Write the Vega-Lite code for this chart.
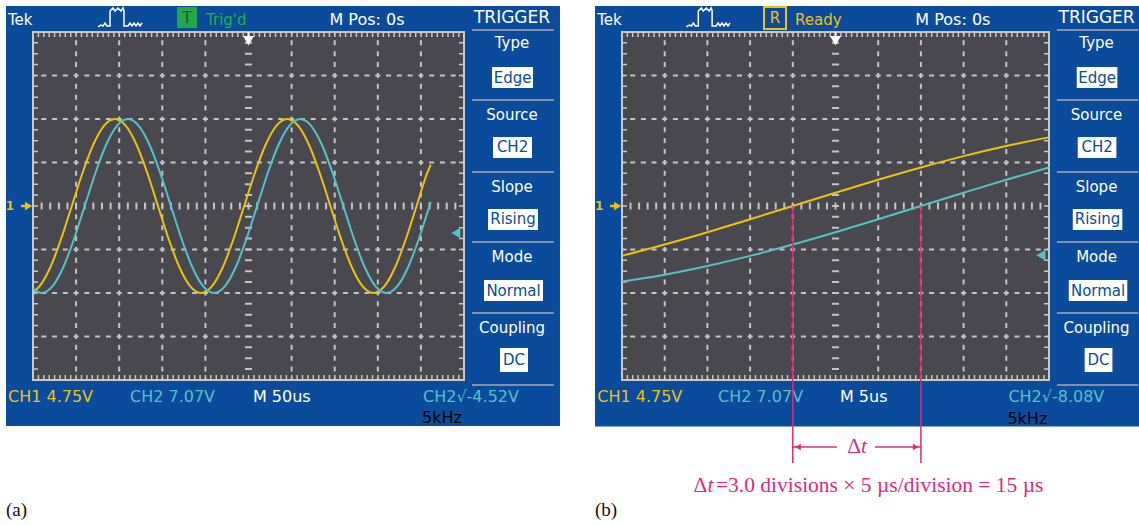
{
"$schema": "https://vega.github.io/schema/vega-lite/v6.json",
"padding": 0,
"background": "#ffffff",
"spacing": 0,
"bounds": "flush",
"config": {"view": {"stroke": null}},
"resolve": {"scale": {"x": "independent", "y": "independent", "color": "independent"}},
"datasets": {
"bgA": [{"x": -0.626, "x2": 12.227, "y": 4.598, "y2": -5.057}],
"bgB": [{"x": -0.632, "x2": 12.108, "y": 4.598, "y2": -5.07}],
"screen": [{"x": 0, "x2": 10, "y": 4, "y2": -4}],
"vgrid": [{"x": 1, "x2": 1, "y": 4, "y2": -4}, {"x": 2, "x2": 2, "y": 4, "y2": -4}, {"x": 3, "x2": 3, "y": 4, "y2": -4}, {"x": 4, "x2": 4, "y": 4, "y2": -4}, {"x": 6, "x2": 6, "y": 4, "y2": -4}, {"x": 7, "x2": 7, "y": 4, "y2": -4}, {"x": 8, "x2": 8, "y": 4, "y2": -4}, {"x": 9, "x2": 9, "y": 4, "y2": -4}],
"hgrid": [{"x": 0, "x2": 10, "y": 3, "y2": 3}, {"x": 0, "x2": 10, "y": 2, "y2": 2}, {"x": 0, "x2": 10, "y": 1, "y2": 1}, {"x": 0, "x2": 10, "y": -1, "y2": -1}, {"x": 0, "x2": 10, "y": -2, "y2": -2}, {"x": 0, "x2": 10, "y": -3, "y2": -3}],
"vcenter": [{"x": 5, "x2": 5, "y": 4, "y2": -4}],
"hcenter": [{"x": 0, "x2": 10, "y": 0, "y2": 0}],
"edgeTB": [{"x": 0, "x2": 10, "y": 3.9425, "y2": 3.9425}, {"x": 0, "x2": 10, "y": -3.9425, "y2": -3.9425}],
"edgeLR": [{"x": 0.058, "x2": 0.058, "y": 4, "y2": -4}, {"x": 9.942, "x2": 9.942, "y": 4, "y2": -4}],
"sep": [{"x": 10.186, "x2": 12.088, "y": 4.046, "y2": 4.046}, {"x": 10.186, "x2": 12.088, "y": 2.437, "y2": 2.437}, {"x": 10.186, "x2": 12.088, "y": 0.782, "y2": 0.782}, {"x": 10.186, "x2": 12.088, "y": -0.828, "y2": -0.828}, {"x": 10.186, "x2": 12.088, "y": -2.46, "y2": -2.46}, {"x": 10.186, "x2": 12.088, "y": -4.115, "y2": -4.115}],
"menu": [{"x": 11.114, "y": 3.747, "label": "Type"}, {"x": 11.114, "y": 2.092, "label": "Source"}, {"x": 11.114, "y": 0.437, "label": "Slope"}, {"x": 11.114, "y": -1.172, "label": "Mode"}, {"x": 11.114, "y": -2.805, "label": "Coupling"}],
"boxes": [{"x": 10.65, "x2": 11.601, "y": 3.195, "y2": 2.713}, {"x": 10.673, "x2": 11.578, "y": 1.586, "y2": 1.103}, {"x": 10.557, "x2": 11.717, "y": -0.069, "y2": -0.552}, {"x": 10.464, "x2": 11.833, "y": -1.701, "y2": -2.184}, {"x": 10.835, "x2": 11.485, "y": -3.264, "y2": -3.816}],
"values": [{"x": 11.126, "y": 2.954, "label": "Edge"}, {"x": 11.126, "y": 1.345, "label": "CH2"}, {"x": 11.137, "y": -0.31, "label": "Rising"}, {"x": 11.149, "y": -1.943, "label": "Normal"}, {"x": 11.16, "y": -3.54, "label": "DC"}],
"headL": [{"x": -0.58, "y": 4.276, "label": "Tek"}],
"headC": [{"x": 7.749, "y": 4.276, "label": "M Pos: 0s"}],
"trig": [{"x": 11.114, "y": 4.322, "label": "TRIGGER"}],
"icon": [{"i": 0, "x": 1.508, "y": 4.115}, {"i": 1, "x": 1.578, "y": 4.161}, {"i": 2, "x": 1.624, "y": 4.138}, {"i": 3, "x": 1.671, "y": 4.207}, {"i": 4, "x": 1.717, "y": 4.138}, {"i": 5, "x": 1.787, "y": 4.138}, {"i": 6, "x": 1.787, "y": 4.483}, {"i": 7, "x": 1.856, "y": 4.552}, {"i": 8, "x": 1.903, "y": 4.483}, {"i": 9, "x": 1.972, "y": 4.552}, {"i": 10, "x": 2.042, "y": 4.483}, {"i": 11, "x": 2.088, "y": 4.552}, {"i": 12, "x": 2.111, "y": 4.483}, {"i": 13, "x": 2.111, "y": 4.138}, {"i": 14, "x": 2.204, "y": 4.138}, {"i": 15, "x": 2.251, "y": 4.207}, {"i": 16, "x": 2.297, "y": 4.138}, {"i": 17, "x": 2.343, "y": 4.207}, {"i": 18, "x": 2.39, "y": 4.138}, {"i": 19, "x": 2.436, "y": 4.207}, {"i": 20, "x": 2.483, "y": 4.138}, {"i": 21, "x": 2.529, "y": 4.207}],
"statA": [{"x": -0.58, "y": -4.391, "label": "CH1 4.75V", "ch": "CH1"}, {"x": 2.251, "y": -4.391, "label": "CH2 7.07V", "ch": "CH2"}, {"x": 5.104, "y": -4.391, "label": "M 50us", "ch": "M"}, {"x": 9.049, "y": -4.391, "label": "CH2√-4.52V", "ch": "CH2"}, {"x": 9.026, "y": -4.88, "label": "5kHz", "ch": "F"}],
"statB": [{"x": -0.58, "y": -4.391, "label": "CH1 4.75V", "ch": "CH1"}, {"x": 2.251, "y": -4.391, "label": "CH2 7.07V", "ch": "CH2"}, {"x": 5.104, "y": -4.391, "label": "M 5us", "ch": "M"}, {"x": 9.049, "y": -4.391, "label": "CH2√-8.08V", "ch": "CH2"}, {"x": 9.026, "y": -4.9, "label": "5kHz", "ch": "F"}],
"modeBoxA": [{"x": 3.341, "x2": 3.805, "y": 4.575, "y2": 4.092}],
"modeLetterA": [{"x": 3.573, "y": 4.333, "label": "T"}],
"modeWordA": [{"x": 4.014, "y": 4.276, "label": "Trig'd"}],
"modeBoxB": [{"x": 3.326, "x2": 3.841, "y": 4.575, "y2": 4.069}],
"modeLetterB": [{"x": 3.583, "y": 4.333, "label": "R"}],
"modeWordB": [{"x": 4.052, "y": 4.276, "label": "Ready"}],
"waveA": [
{"ch": "CH1", "x": 0, "y": -1.975}, {"ch": "CH1", "x": 0.15, "y": -1.848}, {"ch": "CH1", "x": 0.4, "y": -1.414}, {"ch": "CH1", "x": 0.65, "y": -0.765}, {"ch": "CH1", "x": 0.9, "y": 0}, {"ch": "CH1", "x": 1.15, "y": 0.765}, {"ch": "CH1", "x": 1.4, "y": 1.414}, {"ch": "CH1", "x": 1.65, "y": 1.848}, {"ch": "CH1", "x": 1.9, "y": 2}, {"ch": "CH1", "x": 2.15, "y": 1.848}, {"ch": "CH1", "x": 2.4, "y": 1.414}, {"ch": "CH1", "x": 2.65, "y": 0.765}, {"ch": "CH1", "x": 2.9, "y": 0}, {"ch": "CH1", "x": 3.15, "y": -0.765}, {"ch": "CH1", "x": 3.4, "y": -1.414}, {"ch": "CH1", "x": 3.65, "y": -1.848}, {"ch": "CH1", "x": 3.9, "y": -2}, {"ch": "CH1", "x": 4.15, "y": -1.848}, {"ch": "CH1", "x": 4.4, "y": -1.414}, {"ch": "CH1", "x": 4.65, "y": -0.765}, {"ch": "CH1", "x": 4.9, "y": 0}, {"ch": "CH1", "x": 5.15, "y": 0.765}, {"ch": "CH1", "x": 5.4, "y": 1.414}, {"ch": "CH1", "x": 5.65, "y": 1.848}, {"ch": "CH1", "x": 5.9, "y": 2}, {"ch": "CH1", "x": 6.15, "y": 1.848}, {"ch": "CH1", "x": 6.4, "y": 1.414}, {"ch": "CH1", "x": 6.65, "y": 0.765}, {"ch": "CH1", "x": 6.9, "y": 0}, {"ch": "CH1", "x": 7.15, "y": -0.765}, {"ch": "CH1", "x": 7.4, "y": -1.414}, {"ch": "CH1", "x": 7.65, "y": -1.848}, {"ch": "CH1", "x": 7.9, "y": -2}, {"ch": "CH1", "x": 8.15, "y": -1.848}, {"ch": "CH1", "x": 8.4, "y": -1.414}, {"ch": "CH1", "x": 8.65, "y": -0.765}, {"ch": "CH1", "x": 8.9, "y": 0}, {"ch": "CH1", "x": 9.15, "y": 0.765}, {"ch": "CH1", "x": 9.23, "y": 0.95},
{"ch": "CH2", "x": 0, "y": -1.902}, {"ch": "CH2", "x": 0.2, "y": -2}, {"ch": "CH2", "x": 0.45, "y": -1.848}, {"ch": "CH2", "x": 0.7, "y": -1.414}, {"ch": "CH2", "x": 0.95, "y": -0.765}, {"ch": "CH2", "x": 1.2, "y": 0}, {"ch": "CH2", "x": 1.45, "y": 0.765}, {"ch": "CH2", "x": 1.7, "y": 1.414}, {"ch": "CH2", "x": 1.95, "y": 1.848}, {"ch": "CH2", "x": 2.2, "y": 2}, {"ch": "CH2", "x": 2.45, "y": 1.848}, {"ch": "CH2", "x": 2.7, "y": 1.414}, {"ch": "CH2", "x": 2.95, "y": 0.765}, {"ch": "CH2", "x": 3.2, "y": 0}, {"ch": "CH2", "x": 3.45, "y": -0.765}, {"ch": "CH2", "x": 3.7, "y": -1.414}, {"ch": "CH2", "x": 3.95, "y": -1.848}, {"ch": "CH2", "x": 4.2, "y": -2}, {"ch": "CH2", "x": 4.45, "y": -1.848}, {"ch": "CH2", "x": 4.7, "y": -1.414}, {"ch": "CH2", "x": 4.95, "y": -0.765}, {"ch": "CH2", "x": 5.2, "y": 0}, {"ch": "CH2", "x": 5.45, "y": 0.765}, {"ch": "CH2", "x": 5.7, "y": 1.414}, {"ch": "CH2", "x": 5.95, "y": 1.848}, {"ch": "CH2", "x": 6.2, "y": 2}, {"ch": "CH2", "x": 6.45, "y": 1.848}, {"ch": "CH2", "x": 6.7, "y": 1.414}, {"ch": "CH2", "x": 6.95, "y": 0.765}, {"ch": "CH2", "x": 7.2, "y": 0}, {"ch": "CH2", "x": 7.45, "y": -0.765}, {"ch": "CH2", "x": 7.7, "y": -1.414}, {"ch": "CH2", "x": 7.95, "y": -1.848}, {"ch": "CH2", "x": 8.2, "y": -2}, {"ch": "CH2", "x": 8.45, "y": -1.848}, {"ch": "CH2", "x": 8.7, "y": -1.414}, {"ch": "CH2", "x": 8.95, "y": -0.765}, {"ch": "CH2", "x": 9.2, "y": 0}, {"ch": "CH2", "x": 9.23, "y": 0.09}],
"waveB": [
{"ch": "CH1", "x": 0, "y": -1.146}, {"ch": "CH1", "x": 1, "y": -0.885}, {"ch": "CH1", "x": 2, "y": -0.603}, {"ch": "CH1", "x": 3, "y": -0.305}, {"ch": "CH1", "x": 4, "y": 0}, {"ch": "CH1", "x": 5, "y": 0.305}, {"ch": "CH1", "x": 6, "y": 0.603}, {"ch": "CH1", "x": 7, "y": 0.885}, {"ch": "CH1", "x": 8, "y": 1.146}, {"ch": "CH1", "x": 9, "y": 1.379}, {"ch": "CH1", "x": 10, "y": 1.578},
{"ch": "CH2", "x": 0, "y": -1.737}, {"ch": "CH2", "x": 1, "y": -1.578}, {"ch": "CH2", "x": 2, "y": -1.379}, {"ch": "CH2", "x": 3, "y": -1.146}, {"ch": "CH2", "x": 4, "y": -0.885}, {"ch": "CH2", "x": 5, "y": -0.603}, {"ch": "CH2", "x": 6, "y": -0.305}, {"ch": "CH2", "x": 7, "y": 0}, {"ch": "CH2", "x": 8, "y": 0.305}, {"ch": "CH2", "x": 9, "y": 0.603}, {"ch": "CH2", "x": 10, "y": 0.885}],
"topStem": [{"x": 5, "x2": 5, "y": 4, "y2": 3.84}],
"topMark": [{"x": 5, "y": 3.8}],
"leftStem": [{"x": -0.28, "x2": -0.12, "y": 0, "y2": 0}],
"leftMark": [{"x": -0.1, "y": 0}],
"leftTxt": [{"x": -0.534, "y": 0, "label": "1"}],
"trigLvlA": [{"x": 9.81, "y": -0.62}],
"trigLvlB": [{"x": 9.81, "y": -1.13}],
"capA": [{"x": -0.626, "y": -6.99, "label": "(a)"}],
"capB": [{"x": -0.632, "y": -6.99, "label": "(b)"}],
"pinkLines": [{"x": 4, "x2": 4, "y": 0, "y2": -5.908}, {"x": 7, "x2": 7, "y": 0, "y2": -5.908}],
"pinkShaft": [{"x": 4, "x2": 5.035, "y": -5.54, "y2": -5.54}, {"x": 5.925, "x2": 7, "y": -5.54, "y2": -5.54}],
"pinkHeadL": [{"x": 4.12, "y": -5.54}],
"pinkHeadR": [{"x": 6.88, "y": -5.54}],
"pinkDelta": [{"x": 5.597, "y": -5.54, "label": "Δ"}, {"x": 2.0, "y": -6.437, "label": "Δ"}],
"pinkT": [{"x": 5.597, "y": -5.54, "label": "t"}, {"x": 2.0, "y": -6.437, "label": "t"}],
"formula": [{"x": 2.2, "y": -6.437, "label": " =3.0 divisions × 5 µs/division = 15 µs"}]
},
"hconcat": [
{
"width": 589, "height": 525,
"encoding": {
"x": {"field": "x", "type": "quantitative", "scale": {"domain": [-0.7657, 12.9002], "nice": false, "zero": false}, "axis": null},
"y": {"field": "y", "type": "quantitative", "scale": {"domain": [-7.3333, 4.7356], "nice": false, "zero": false}, "axis": null}
},
"layer": [
{"data": {"name": "bgA"}, "mark": {"type": "rect", "fill": "#0b4b9b"}, "encoding": {"x2": {"field": "x2"}, "y2": {"field": "y2"}}},
{"data": {"name": "screen"}, "mark": {"type": "rect", "fill": "#48484e", "stroke": "#c8c8c8", "strokeWidth": 2}, "encoding": {"x2": {"field": "x2"}, "y2": {"field": "y2"}}},
{"data": {"name": "vgrid"}, "mark": {"type": "rule", "stroke": "#c4c4c4", "strokeWidth": 2, "strokeDash": [5, 5.875], "strokeDashOffset": 2.5}, "encoding": {"x2": {"field": "x2"}, "y2": {"field": "y2"}}},
{"data": {"name": "hgrid"}, "mark": {"type": "rule", "stroke": "#c4c4c4", "strokeWidth": 2, "strokeDash": [5, 5.775], "strokeDashOffset": 2.5}, "encoding": {"x2": {"field": "x2"}, "y2": {"field": "y2"}}},
{"data": {"name": "vcenter"}, "mark": {"type": "rule", "stroke": "#c4c4c4", "strokeWidth": 7, "strokeDash": [2, 8.875], "strokeDashOffset": 1}, "encoding": {"x2": {"field": "x2"}, "y2": {"field": "y2"}}},
{"data": {"name": "hcenter"}, "mark": {"type": "rule", "stroke": "#c4c4c4", "strokeWidth": 7, "strokeDash": [2, 6.62], "strokeDashOffset": 1}, "encoding": {"x2": {"field": "x2"}, "y2": {"field": "y2"}}},
{"data": {"name": "edgeTB"}, "mark": {"type": "rule", "stroke": "#c8c8c8", "strokeWidth": 5, "strokeDash": [1.5, 3.89], "strokeDashOffset": 0.75}, "encoding": {"x2": {"field": "x2"}, "y2": {"field": "y2"}}},
{"data": {"name": "edgeLR"}, "mark": {"type": "rule", "stroke": "#c8c8c8", "strokeWidth": 5, "strokeDash": [1.5, 9.375], "strokeDashOffset": 0.75}, "encoding": {"x2": {"field": "x2"}, "y2": {"field": "y2"}}},
{"data": {"name": "sep"}, "mark": {"type": "rule", "stroke": "#8391a8", "strokeWidth": 2}, "encoding": {"x2": {"field": "x2"}, "y2": {"field": "y2"}}},
{"data": {"name": "boxes"}, "mark": {"type": "rect", "fill": "#ffffff"}, "encoding": {"x2": {"field": "x2"}, "y2": {"field": "y2"}}},
{"data": {"name": "menu"}, "mark": {"type": "text", "fill": "#ffffff", "font": "DejaVu Sans", "fontSize": 15, "align": "center", "baseline": "middle"}, "encoding": {"text": {"field": "label"}}},
{"data": {"name": "values"}, "mark": {"type": "text", "fill": "#0b4b9b", "font": "DejaVu Sans", "fontSize": 15, "align": "center", "baseline": "middle"}, "encoding": {"text": {"field": "label"}}},
{"data": {"name": "headL"}, "mark": {"type": "text", "fill": "#ffffff", "font": "DejaVu Sans", "fontSize": 15, "align": "left", "baseline": "middle"}, "encoding": {"text": {"field": "label"}}},
{"data": {"name": "headC"}, "mark": {"type": "text", "fill": "#ffffff", "font": "DejaVu Sans", "fontSize": 16, "align": "center", "baseline": "middle"}, "encoding": {"text": {"field": "label"}}},
{"data": {"name": "trig"}, "mark": {"type": "text", "fill": "#ffffff", "font": "DejaVu Sans", "fontSize": 17, "align": "center", "baseline": "middle"}, "encoding": {"text": {"field": "label"}}},
{"data": {"name": "icon"}, "mark": {"type": "line", "stroke": "#ffffff", "strokeWidth": 1.5}, "encoding": {"order": {"field": "i", "type": "quantitative"}}},
{"data": {"name": "modeBoxA"}, "mark": {"type": "rect", "fill": "#22a84a"}, "encoding": {"x2": {"field": "x2"}, "y2": {"field": "y2"}}},
{"data": {"name": "modeLetterA"}, "mark": {"type": "text", "fill": "#0d5a25", "font": "DejaVu Sans", "fontSize": 15, "align": "center", "baseline": "middle"}, "encoding": {"text": {"field": "label"}}},
{"data": {"name": "modeWordA"}, "mark": {"type": "text", "fill": "#22b04c", "font": "DejaVu Sans", "fontSize": 15, "align": "left", "baseline": "middle"}, "encoding": {"text": {"field": "label"}}},
{"data": {"name": "statA"}, "mark": {"type": "text", "font": "DejaVu Sans", "fontSize": 16, "align": "left", "baseline": "middle"}, "encoding": {"text": {"field": "label"}, "color": {"field": "ch", "type": "nominal", "scale": {"domain": ["CH1", "CH2", "M", "F"], "range": ["#edc20e", "#55c2c6", "#ffffff", "#000000"]}, "legend": null}}},
{"data": {"name": "waveA"}, "mark": {"type": "line", "strokeWidth": 2, "interpolate": "monotone"}, "encoding": {"color": {"field": "ch", "type": "nominal", "scale": {"domain": ["CH1", "CH2", "M", "F"], "range": ["#edc20e", "#55c2c6", "#ffffff", "#000000"]}, "legend": null}}},
{"data": {"name": "topStem"}, "mark": {"type": "rule", "stroke": "#ffffff", "strokeWidth": 2}, "encoding": {"x2": {"field": "x2"}, "y2": {"field": "y2"}}},
{"data": {"name": "topMark"}, "mark": {"type": "point", "shape": "triangle-down", "filled": true, "fill": "#ffffff", "opacity": 1, "size": 120, "strokeWidth": 0}},
{"data": {"name": "leftStem"}, "mark": {"type": "rule", "stroke": "#edc20e", "strokeWidth": 2.5}, "encoding": {"x2": {"field": "x2"}, "y2": {"field": "y2"}}},
{"data": {"name": "leftMark"}, "mark": {"type": "point", "shape": "triangle-right", "filled": true, "fill": "#edc20e", "opacity": 1, "size": 70, "strokeWidth": 0}},
{"data": {"name": "leftTxt"}, "mark": {"type": "text", "fill": "#edc20e", "font": "DejaVu Sans", "fontSize": 12, "fontWeight": "bold", "align": "center", "baseline": "middle"}, "encoding": {"text": {"field": "label"}}},
{"data": {"name": "trigLvlA"}, "mark": {"type": "point", "shape": "triangle-left", "filled": true, "fill": "#55c2c6", "opacity": 1, "size": 110, "strokeWidth": 0}},
{"data": {"name": "capA"}, "mark": {"type": "text", "fill": "#111111", "font": "Liberation Serif", "fontSize": 19, "align": "left", "baseline": "middle"}, "encoding": {"text": {"field": "label"}}}
]
},
{
"width": 550, "height": 525,
"encoding": {
"x": {"field": "x", "type": "quantitative", "scale": {"domain": [-0.77283, 12.1077], "nice": false, "zero": false}, "axis": null},
"y": {"field": "y", "type": "quantitative", "scale": {"domain": [-7.3333, 4.7356], "nice": false, "zero": false}, "axis": null}
},
"layer": [
{"data": {"name": "bgB"}, "mark": {"type": "rect", "fill": "#0b4b9b"}, "encoding": {"x2": {"field": "x2"}, "y2": {"field": "y2"}}},
{"data": {"name": "screen"}, "mark": {"type": "rect", "fill": "#48484e", "stroke": "#c8c8c8", "strokeWidth": 2}, "encoding": {"x2": {"field": "x2"}, "y2": {"field": "y2"}}},
{"data": {"name": "vgrid"}, "mark": {"type": "rule", "stroke": "#c4c4c4", "strokeWidth": 2, "strokeDash": [5, 5.875], "strokeDashOffset": 2.5}, "encoding": {"x2": {"field": "x2"}, "y2": {"field": "y2"}}},
{"data": {"name": "hgrid"}, "mark": {"type": "rule", "stroke": "#c4c4c4", "strokeWidth": 2, "strokeDash": [5, 5.675], "strokeDashOffset": 2.5}, "encoding": {"x2": {"field": "x2"}, "y2": {"field": "y2"}}},
{"data": {"name": "vcenter"}, "mark": {"type": "rule", "stroke": "#c4c4c4", "strokeWidth": 7, "strokeDash": [2, 8.875], "strokeDashOffset": 1}, "encoding": {"x2": {"field": "x2"}, "y2": {"field": "y2"}}},
{"data": {"name": "hcenter"}, "mark": {"type": "rule", "stroke": "#c4c4c4", "strokeWidth": 7, "strokeDash": [2, 6.54], "strokeDashOffset": 1}, "encoding": {"x2": {"field": "x2"}, "y2": {"field": "y2"}}},
{"data": {"name": "edgeTB"}, "mark": {"type": "rule", "stroke": "#c8c8c8", "strokeWidth": 5, "strokeDash": [1.5, 3.84], "strokeDashOffset": 0.75}, "encoding": {"x2": {"field": "x2"}, "y2": {"field": "y2"}}},
{"data": {"name": "edgeLR"}, "mark": {"type": "rule", "stroke": "#c8c8c8", "strokeWidth": 5, "strokeDash": [1.5, 9.375], "strokeDashOffset": 0.75}, "encoding": {"x2": {"field": "x2"}, "y2": {"field": "y2"}}},
{"data": {"name": "sep"}, "mark": {"type": "rule", "stroke": "#8391a8", "strokeWidth": 2}, "encoding": {"x2": {"field": "x2"}, "y2": {"field": "y2"}}},
{"data": {"name": "boxes"}, "mark": {"type": "rect", "fill": "#ffffff"}, "encoding": {"x2": {"field": "x2"}, "y2": {"field": "y2"}}},
{"data": {"name": "menu"}, "mark": {"type": "text", "fill": "#ffffff", "font": "DejaVu Sans", "fontSize": 15, "align": "center", "baseline": "middle"}, "encoding": {"text": {"field": "label"}}},
{"data": {"name": "values"}, "mark": {"type": "text", "fill": "#0b4b9b", "font": "DejaVu Sans", "fontSize": 15, "align": "center", "baseline": "middle"}, "encoding": {"text": {"field": "label"}}},
{"data": {"name": "headL"}, "mark": {"type": "text", "fill": "#ffffff", "font": "DejaVu Sans", "fontSize": 15, "align": "left", "baseline": "middle"}, "encoding": {"text": {"field": "label"}}},
{"data": {"name": "headC"}, "mark": {"type": "text", "fill": "#ffffff", "font": "DejaVu Sans", "fontSize": 16, "align": "center", "baseline": "middle"}, "encoding": {"text": {"field": "label"}}},
{"data": {"name": "trig"}, "mark": {"type": "text", "fill": "#ffffff", "font": "DejaVu Sans", "fontSize": 17, "align": "center", "baseline": "middle"}, "encoding": {"text": {"field": "label"}}},
{"data": {"name": "icon"}, "mark": {"type": "line", "stroke": "#ffffff", "strokeWidth": 1.5}, "encoding": {"order": {"field": "i", "type": "quantitative"}}},
{"data": {"name": "modeBoxB"}, "mark": {"type": "rect", "fill": "#0b4b9b", "stroke": "#edc20e", "strokeWidth": 2}, "encoding": {"x2": {"field": "x2"}, "y2": {"field": "y2"}}},
{"data": {"name": "modeLetterB"}, "mark": {"type": "text", "fill": "#edc20e", "font": "DejaVu Sans", "fontSize": 15, "align": "center", "baseline": "middle"}, "encoding": {"text": {"field": "label"}}},
{"data": {"name": "modeWordB"}, "mark": {"type": "text", "fill": "#edc20e", "font": "DejaVu Sans", "fontSize": 15, "align": "left", "baseline": "middle"}, "encoding": {"text": {"field": "label"}}},
{"data": {"name": "statB"}, "mark": {"type": "text", "font": "DejaVu Sans", "fontSize": 16, "align": "left", "baseline": "middle"}, "encoding": {"text": {"field": "label"}, "color": {"field": "ch", "type": "nominal", "scale": {"domain": ["CH1", "CH2", "M", "F"], "range": ["#edc20e", "#55c2c6", "#ffffff", "#000000"]}, "legend": null}}},
{"data": {"name": "waveB"}, "mark": {"type": "line", "strokeWidth": 2, "interpolate": "monotone"}, "encoding": {"color": {"field": "ch", "type": "nominal", "scale": {"domain": ["CH1", "CH2", "M", "F"], "range": ["#edc20e", "#55c2c6", "#ffffff", "#000000"]}, "legend": null}}},
{"data": {"name": "topStem"}, "mark": {"type": "rule", "stroke": "#ffffff", "strokeWidth": 2}, "encoding": {"x2": {"field": "x2"}, "y2": {"field": "y2"}}},
{"data": {"name": "topMark"}, "mark": {"type": "point", "shape": "triangle-down", "filled": true, "fill": "#ffffff", "opacity": 1, "size": 120, "strokeWidth": 0}},
{"data": {"name": "leftStem"}, "mark": {"type": "rule", "stroke": "#edc20e", "strokeWidth": 2.5}, "encoding": {"x2": {"field": "x2"}, "y2": {"field": "y2"}}},
{"data": {"name": "leftMark"}, "mark": {"type": "point", "shape": "triangle-right", "filled": true, "fill": "#edc20e", "opacity": 1, "size": 70, "strokeWidth": 0}},
{"data": {"name": "leftTxt"}, "mark": {"type": "text", "fill": "#edc20e", "font": "DejaVu Sans", "fontSize": 12, "fontWeight": "bold", "align": "center", "baseline": "middle"}, "encoding": {"text": {"field": "label"}}},
{"data": {"name": "trigLvlB"}, "mark": {"type": "point", "shape": "triangle-left", "filled": true, "fill": "#55c2c6", "opacity": 1, "size": 110, "strokeWidth": 0}},
{"data": {"name": "pinkLines"}, "mark": {"type": "rule", "stroke": "#e0287f", "strokeWidth": 1.5}, "encoding": {"x2": {"field": "x2"}, "y2": {"field": "y2"}}},
{"data": {"name": "pinkShaft"}, "mark": {"type": "rule", "stroke": "#e0287f", "strokeWidth": 1.5}, "encoding": {"x2": {"field": "x2"}, "y2": {"field": "y2"}}},
{"data": {"name": "pinkHeadL"}, "mark": {"type": "point", "shape": "triangle-left", "filled": true, "fill": "#e0287f", "opacity": 1, "size": 45, "strokeWidth": 0}},
{"data": {"name": "pinkHeadR"}, "mark": {"type": "point", "shape": "triangle-right", "filled": true, "fill": "#e0287f", "opacity": 1, "size": 45, "strokeWidth": 0}},
{"data": {"name": "pinkDelta"}, "mark": {"type": "text", "fill": "#e0287f", "font": "Liberation Serif", "fontSize": 21.5, "align": "right", "baseline": "middle"}, "encoding": {"text": {"field": "label"}}},
{"data": {"name": "pinkT"}, "mark": {"type": "text", "fill": "#e0287f", "font": "Liberation Serif", "fontSize": 21.5, "fontStyle": "italic", "align": "left", "baseline": "middle"}, "encoding": {"text": {"field": "label"}}},
{"data": {"name": "formula"}, "mark": {"type": "text", "fill": "#e0287f", "font": "Liberation Serif", "fontSize": 21.5, "align": "left", "baseline": "middle"}, "encoding": {"text": {"field": "label"}}},
{"data": {"name": "capB"}, "mark": {"type": "text", "fill": "#111111", "font": "Liberation Serif", "fontSize": 19, "align": "left", "baseline": "middle"}, "encoding": {"text": {"field": "label"}}}
]
}
]
}
